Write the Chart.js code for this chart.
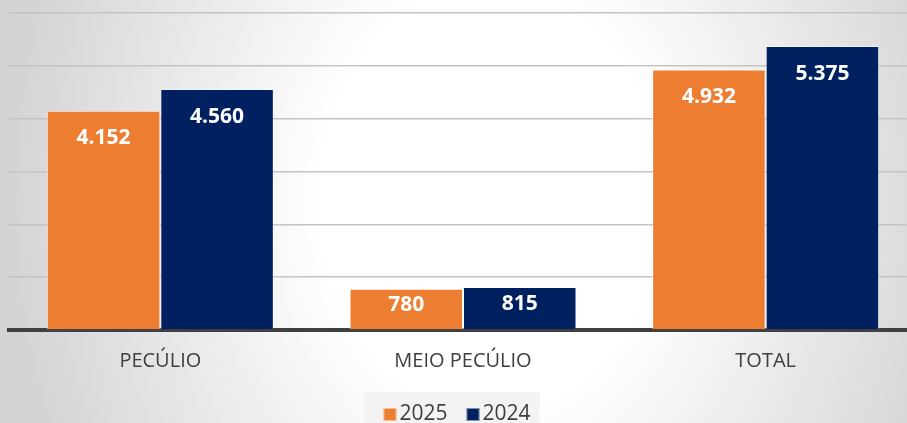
<!DOCTYPE html>
<html>
<head>
<meta charset="utf-8">
<script src="https://cdn.jsdelivr.net/npm/chart.js@4.4.1/dist/chart.umd.min.js"></script>
<style>
    html, body {
        margin: 0;
        padding: 0;
        width: 907px;
        height: 423px;
        overflow: hidden;
    }
    body {
        background: radial-gradient(ellipse 480px 600px at 490px 200px, #ffffff 35%, #d4d4d4 100%);
    }
    #wrap {
        width: 907px;
        height: 423px;
        overflow: hidden;
        position: relative;
    }
    canvas {
        position: absolute;
        left: 0;
        top: 0;
    }
</style>
</head>
<body>
<div id="wrap">
    <canvas id="benefitsChart" width="920" height="423"></canvas>
</div>

<script>
// Pecúlio / Meio Pecúlio - 2025 vs 2024

const categories = ["PECÚLIO", "MEIO PECÚLIO", "TOTAL"];
const values2025 = [4152, 780, 4932];
const values2024 = [4560, 815, 5375];
const yTicks = [0, 1000, 2000, 3000, 4000, 5000, 6000];

const orange = "#ED7D31";
const navy = "#002060";
const textGray = "#404040";

function formatPt(n) {
    return String(n).replace(/\B(?=(\d{3})+(?!\d))/g, ".");
}

// white value labels just inside the top of each bar
const barLabels = {
    id: "barLabels",
    afterDatasetsDraw(chart) {
        const ctx = chart.ctx;
        ctx.save();
        ctx.fillStyle = "#ffffff";
        ctx.font = "bold 21px 'Open Sans'";
        ctx.textAlign = "center";
        ctx.textBaseline = "middle";
        chart.data.datasets.forEach((ds, i) => {
            chart.getDatasetMeta(i).data.forEach((bar, j) => {
                const h = bar.base - bar.y;
                const off = Math.min(27.5, h / 2 - 4);
                ctx.fillText(formatPt(ds.data[j]), bar.x, bar.y + off);
            });
        });
        ctx.restore();
    }
};

// legend drawn by hand (tight box-to-text gap like the original)
const bottomLegend = {
    id: "bottomLegend",
    afterDraw(chart) {
        const ctx = chart.ctx;
        const sets = chart.data.datasets;
        ctx.save();
        ctx.font = "21px 'Open Sans'";
        ctx.textBaseline = "middle";
        const box = 13, gapText = 3, gapItem = 19;
        const widths = sets.map(ds => box + gapText + ctx.measureText(ds.label).width);
        const total = widths.reduce((a, b) => a + b, 0) + gapItem * (sets.length - 1);
        const cy = 414;
        let x = 457 - total / 2;

        ctx.fillStyle = "rgba(242,242,242,0.9)";
        ctx.fillRect(x - 19, 392, total + 28, 40);

        sets.forEach((ds, i) => {
            ctx.fillStyle = ds.backgroundColor;
            ctx.fillRect(x, cy - 6, box, box);
            ctx.strokeStyle = "rgba(255,255,255,0.5)";
            ctx.lineWidth = 1;
            ctx.strokeRect(x + 0.5, cy - 5.5, box - 1, box - 1);
            ctx.fillStyle = textGray;
            ctx.fillText(ds.label, x + box + gapText, cy);
            x += widths[i] + gapItem;
        });
        ctx.restore();
    }
};

const ctx = document.getElementById("benefitsChart");

new Chart(ctx, {
    type: "bar",
    data: {
        labels: categories,
        datasets: [
            {
                label: "2025",
                data: values2025,
                backgroundColor: orange,
                borderColor: "rgba(255,255,255,0.55)",
                borderWidth: 1
            },
            {
                label: "2024",
                data: values2024,
                backgroundColor: navy,
                borderColor: "rgba(255,255,255,0.45)",
                borderWidth: 1
            }
        ]
    },
    options: {
        responsive: false,
        animation: false,
        layout: {
            padding: { left: 9, right: 3, top: 13, bottom: 0 }
        },
        datasets: {
            bar: {
                barPercentage: 1,
                categoryPercentage: 0.75
            }
        },
        plugins: {
            legend: { display: false },
            tooltip: { enabled: false }
        },
        scales: {
            x: {
                grid: { display: false },
                border: { display: true, color: "#404040", width: 4 },
                ticks: {
                    color: textGray,
                    padding: 11,
                    font: { family: "'Open Sans'", size: 20 }
                },
                afterFit(scale) {
                    scale.height = 93;
                }
            },
            y: {
                min: 0,
                max: 6000,
                afterBuildTicks(scale) {
                    scale.ticks = yTicks.map(v => ({ value: v }));
                },
                ticks: { display: false },
                border: { display: false },
                grid: {
                    color: "#c4c4c4",
                    lineWidth: 1.5,
                    drawTicks: false
                }
            }
        }
    },
    plugins: [barLabels, bottomLegend]
});
</script>
</body>
</html>
